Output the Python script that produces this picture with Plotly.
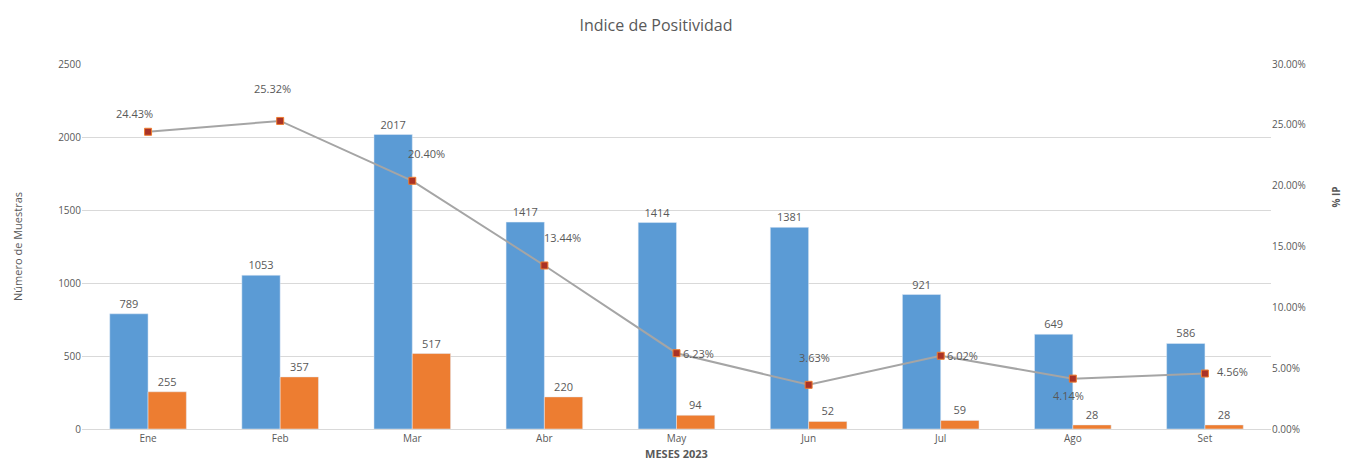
import plotly.graph_objects as go

# data
meses = ["Ene", "Feb", "Mar", "Abr", "May", "Jun", "Jul", "Ago", "Set"]
muestras = [789, 1053, 2017, 1417, 1414, 1381, 921, 649, 586]
positivos = [255, 357, 517, 220, 94, 52, 59, 28, 28]
indice_ip = [24.43, 25.32, 20.40, 13.44, 6.23, 3.63, 6.02, 4.14, 4.56]

# pixel offsets of the % labels relative to their markers
label_dx = [-14, -8, 14, 18, 22, 6, 22, -4, 28]
label_dy = [-18, -32, -27, -28, 0, -27, 0, 17, -2]

FONT = "Open Sans"
GRAY = "#595959"
GRID = "#D9D9D9"

fig = go.Figure()

fig.add_trace(go.Bar(
    x=meses, y=muestras, name="Muestras",
    marker_color="#5B9BD5",
    text=muestras, textposition="outside", cliponaxis=False,
    textfont=dict(size=11, color=GRAY, family=FONT),
))
fig.add_trace(go.Bar(
    x=meses, y=positivos, name="Positivos",
    marker_color="#ED7D31",
    text=positivos, textposition="outside", cliponaxis=False,
    textfont=dict(size=11, color=GRAY, family=FONT),
))
fig.add_trace(go.Scatter(
    x=meses, y=indice_ip, yaxis="y2", name="% IP",
    mode="lines+markers",
    line=dict(color="#A5A5A5", width=2),
    marker=dict(symbol="square", size=7, color="#A93226",
                line=dict(color="#ED7D31", width=1)),
))

# % labels next to the markers
for m, v, dx, dy in zip(meses, indice_ip, label_dx, label_dy):
    fig.add_annotation(
        x=m, y=v, yref="y2", text=f"{v:.2f}%", showarrow=False,
        xshift=dx, yshift=-dy,
        font=dict(size=11, color=GRAY, family=FONT),
    )

# the page adds an 8px body margin, so margins are shifted by 8
fig.update_layout(
    width=1350, height=472,
    paper_bgcolor="white", plot_bgcolor="white",
    margin=dict(l=74, r=87, t=56, b=51),
    title=dict(text="Indice de Positividad", x=0.48, y=0.975, xanchor="center",
               font=dict(size=16, color=GRAY, family=FONT)),
    barmode="group", bargap=0.42, bargroupgap=0,
    showlegend=False,
    font=dict(family=FONT, color=GRAY),
    xaxis=dict(
        automargin=False,
        tickfont=dict(size=10, color=GRAY),
        showline=True, linecolor=GRID, ticks="",
        title=dict(text="<b>MESES 2023</b>", font=dict(size=11, color=GRAY), standoff=6),
    ),
    yaxis=dict(
        automargin=False,
        range=[0, 2500], dtick=500,
        showgrid=True, gridcolor=GRID, zeroline=False,
        tickfont=dict(size=10, color=GRAY),
        title=dict(text="Número de Muestras", font=dict(size=11, color=GRAY), standoff=33),
    ),
    yaxis2=dict(
        automargin=False,
        overlaying="y", side="right",
        range=[0, 30], dtick=5, tickformat=".2f", ticksuffix="%",
        showgrid=False, zeroline=False,
        tickfont=dict(size=10, color=GRAY),
    ),
)

fig.add_annotation(
    xref="paper", yref="paper", x=1.062, y=0.636, text="<b>% IP</b>",
    textangle=-90, showarrow=False, font=dict(size=10, color=GRAY, family=FONT),
)

fig.write_html("out.html")
